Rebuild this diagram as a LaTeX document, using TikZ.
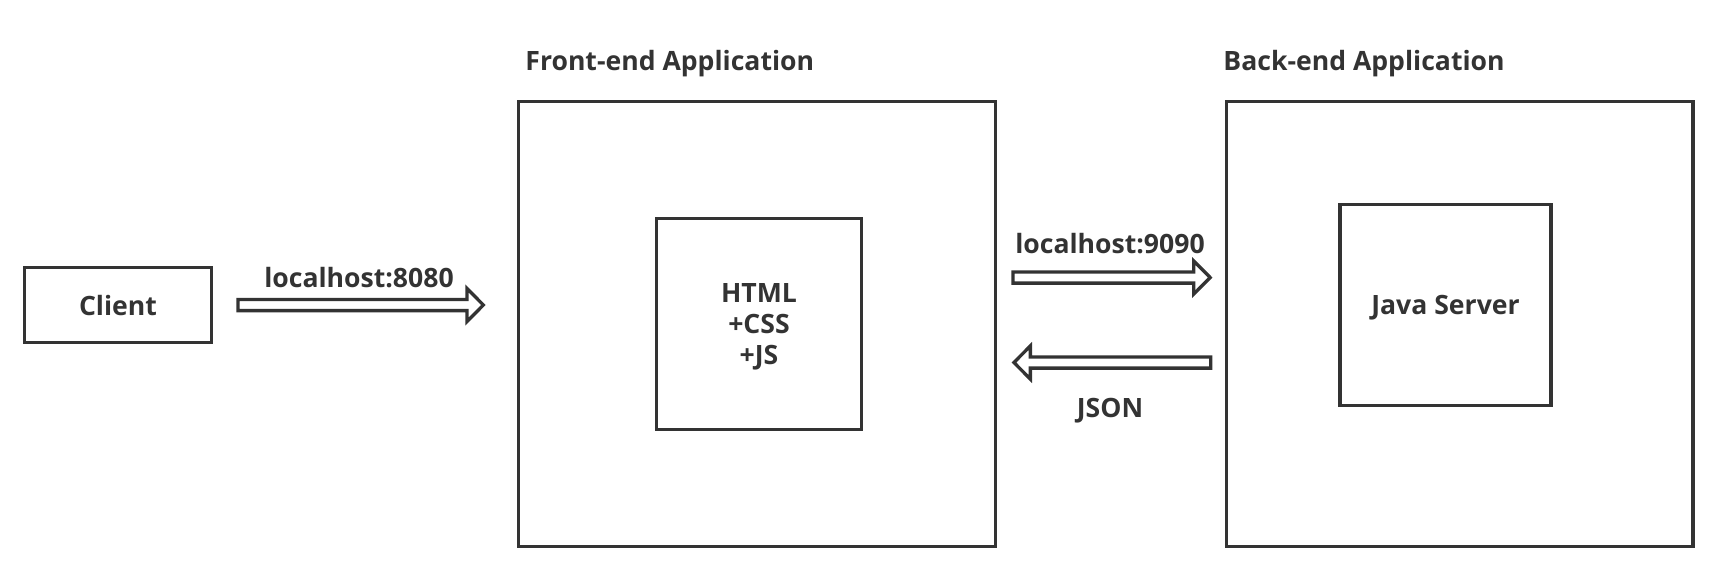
\documentclass[tikz,border=0pt]{standalone}
\usepackage{fontspec}
\setmainfont{Open Sans}
\usetikzlibrary{calc,positioning}
\definecolor{ink}{HTML}{333333}

\begin{document}
\begin{tikzpicture}[x=0.5pt,y=-0.5pt,
  box/.style={draw=ink,line width=1.65pt,inner sep=0pt,text=ink,align=center,text depth=0pt,
    font=\fontsize{13.3}{15.5}\selectfont\bfseries},
  lbl/.style={text=ink,inner sep=0pt,font=\fontsize{13.3}{15.5}\selectfont\bfseries},
  fatarrow/.style={draw=ink,line width=1.65pt,line join=miter,
    to path={let \p1=(\tikztostart), \p2=(\tikztotarget),
      \n1={ifthenelse(\x2>\x1,1,-1)} in
      (\x1,\y1+2.8pt) -- ({\x2-(\n1)*8.2pt},\y1+2.8pt) -- ({\x2-(\n1)*8.2pt},\y1+8.3pt)
      -- (\x2,\y1) -- ({\x2-(\n1)*8.2pt},\y1-8.3pt) -- ({\x2-(\n1)*8.2pt},\y1-2.8pt)
      -- (\x1,\y1-2.8pt) -- cycle}}]
\useasboundingbox (0,0) rectangle (1727,574);

%Shape: Rectangle
\node[box,minimum width=93.5pt,minimum height=37.5pt] (client) at (118,305) {Client};
%Shape: Rectangle
\node[box,minimum width=238.5pt,minimum height=222.5pt] (front) at (757,324) {};
\node[box,minimum width=102.5pt,minimum height=105.5pt] (html) at (759,324) {HTML\\+CSS\\+JS};
%Shape: Rectangle
\node[box,minimum width=233.2pt,minimum height=222.5pt] (back) at (1459.8,324) {};
\node[box,minimum width=105.5pt,minimum height=100.5pt] (java) at (1445.5,305) {Java Server};

% Text Node
\node[lbl,anchor=base west] (fronttitle) at (525,70) {Front-end Application};
% Text Node
\node[lbl,anchor=base west] (backtitle) at (1223,70) {Back-end Application};

%Block Arrows
\draw[fatarrow] ($(client.east)+(24.8,0)$) to ($(front.west)+(-33.5,0)$);
\draw[fatarrow] ($(front.east)+(15.8,-46.5)$) to ($(back.west)+(-14.8,0)$);
\draw[fatarrow] ($(back.west)+(-14.3,38.5)$) to ($(front.east)+(16.8,0)$);

% Text Node
\node[lbl,anchor=base] (port1) at (359,287) {localhost:8080};
% Text Node
\node[lbl,anchor=base] (port2) at (1110,253) {localhost:9090};
% Text Node
\node[lbl,anchor=base] (json) at (1110,417) {JSON};

\end{tikzpicture}
\end{document}
